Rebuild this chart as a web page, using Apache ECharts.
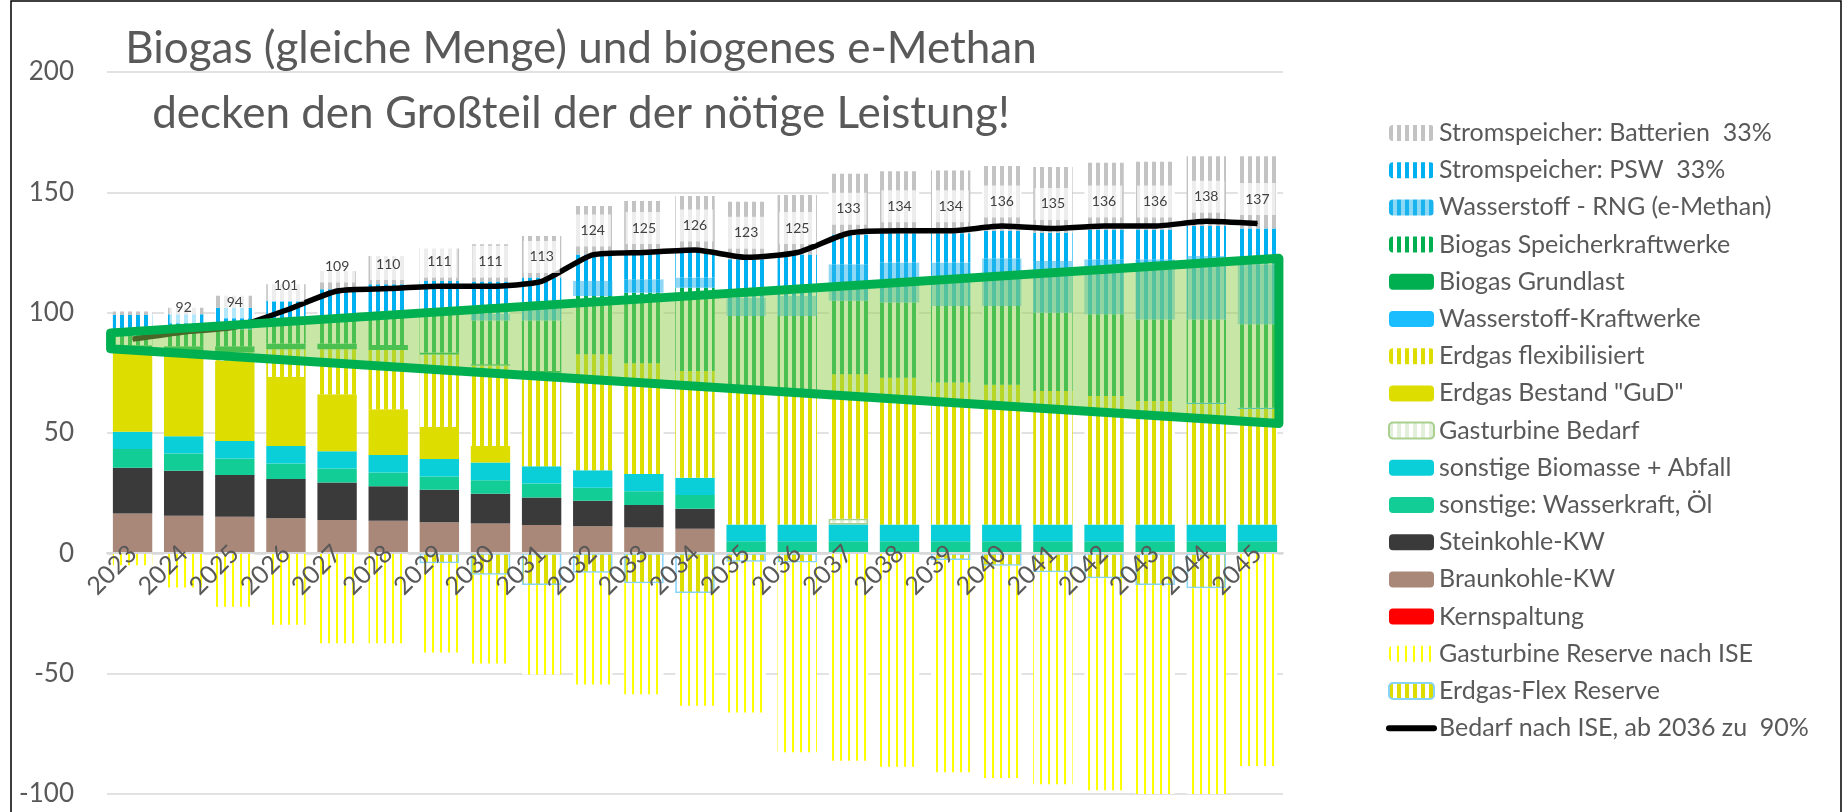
<!DOCTYPE html>
<html>
<head>
<meta charset="utf-8">
<title>Biogas und biogenes e-Methan</title>
<script src="https://cdn.jsdelivr.net/npm/echarts@6/dist/echarts.min.js"></script>
<style>
  html, body { margin: 0; padding: 0; background: #fff; }
  #main { width: 1847px; height: 812px; }
</style>
</head>
<body>
<div id="main"></div>
<script>
// Kategorien
const years = ['2023', '2024', '2025', '2026', '2027', '2028', '2029', '2030', '2031', '2032', '2033', '2034',
  '2035', '2036', '2037', '2038', '2039', '2040', '2041', '2042', '2043', '2044', '2045']

// Leistung je Quelle (GW), von unten nach oben gestapelt
const kernspaltung = [0, 0, 0, 0, 0, 0, 0, 0, 0, 0, 0, 0, 0, 0, 0, 0, 0, 0, 0, 0, 0, 0, 0]
const braunkohle = [16.5, 15.6, 15.2, 14.6, 13.9, 13.5, 12.9, 12.4, 11.8, 11.3, 10.7, 10.2, 0, 0, 0, 0, 0, 0, 0, 0, 0, 0, 0]
const steinkohle = [19.1, 18.7, 17.4, 16.3, 15.5, 14.4, 13.5, 12.4, 11.4, 10.5, 9.4, 8.3, 0, 0, 0, 0, 0, 0, 0, 0, 0, 0, 0]
const wasserkraft = [7.7, 7.2, 6.8, 6.4, 5.8, 5.7, 5.5, 5.6, 5.8, 5.5, 5.7, 5.7, 5, 5, 5, 5, 5, 5, 5, 5, 5, 5, 5]
const biomasse = [7.2, 7.2, 7.3, 7.3, 7.2, 7.3, 7.3, 7.3, 7.2, 7.2, 7.2, 7.2, 7, 7, 7, 7, 7, 7, 7, 7, 7, 7, 7]
const gtBedarf = [0, 0, 0, 0, 0, 0, 0, 0, 0, 0, 0, 0, 0, 0, 2.4, 0, 0, 0, 0, 0, 0, 0, 0]
const gud = [33.5, 34.3, 33.3, 28.7, 23.7, 19, 13.3, 6.9, 0, 0, 0, 0, 0, 0, 0, 0, 0, 0, 0, 0, 0, 0, 0]
const erdgasFlex = [0, 0.5, 3.5, 11.5, 18.7, 24.6, 30.1, 33.4, 38.8, 48.2, 46, 44.4, 56, 56, 60, 61, 59, 58, 55.5, 53.4, 51.3, 50.1, 48]
const h2Kraftwerke = [0, 0, 0, 0, 0, 0, 0, 0, 0, 0, 0, 0, 0, 0, 0, 0, 0, 0, 0, 0, 0, 0.5, 0.5]
const biogasGrund = [2.5, 2.5, 2.5, 2.4, 2.4, 2.1, 0.8, 0.6, 0.8, 0, 0, 0, 0, 0, 0, 0, 0, 0, 0, 0, 0, 0, 0]
const biogasSpeicher = [4.5, 6, 7, 7.8, 9.8, 11.4, 15.6, 18.1, 20.9, 24.2, 29.3, 34.6, 30.6, 30.6, 30.5, 31.2, 31.8, 32.8, 32.5, 33.9, 33.9, 34.6, 34.7]
const rng = [0, 0, 0, 0, 0, 0, 0, 2.7, 4.8, 6.3, 5.6, 4.2, 7.6, 8.3, 15.2, 16.6, 18, 19.8, 21.5, 22.9, 25, 26.3, 24.9]
const psw = [8, 7.3, 9, 9.9, 12.7, 13.8, 14.2, 13.6, 13.1, 11, 11.1, 11, 16, 17.3, 12.4, 12.2, 12.2, 11.4, 11.7, 12.4, 12.4, 12.5, 14.9]
const batterien = [1.5, 2.7, 5, 6.9, 7.6, 11.7, 13.5, 15.4, 17.3, 20.1, 21.4, 22.9, 23.9, 24.7, 25.2, 25.8, 26.1, 26.9, 27.3, 27.7, 28.1, 29, 30]

// Reserven (negativ)
const flexReserve = [0, 0, 0, 0, 0, 0, -4.1, -8.9, -13.2, -8.1, -12.4, -16.5, -3.5, -3.8, 0, 0, -2.8, -5.2, -7.9, -10.4, -13.2, -14.5, 0]
const gtReserve = [-4.9, -14.2, -22.2, -29.7, -37.4, -37.4, -37.1, -36.9, -37.1, -46.4, -46.2, -46.8, -62.6, -78.9, -86.2, -88.7, -88.2, -88.2, -88, -88, -92.8, -91.5, -88.4]

// Bedarf nach ISE
const bedarf = [89, 92, 94, 101, 109, 110, 111, 111, 113, 124, 125, 126, 123, 125, 133, 134, 134, 136, 135, 136, 136, 138, 137]

// grüne Markierung (Trapez), x als Kategorie-Index
const trapezX = [-0.43, 22.42, 22.42, -0.43]
const trapezY = [91.6, 122.6, 53.9, 85]

const titleLines = ['Biogas (gleiche Menge) und biogenes e-Methan', 'decken den Großteil der der nötige Leistung!']

// senkrechte Streifen als Muster
function stripes(fg, bg, period, w) {
  const c = document.createElement('canvas')
  c.width = period
  c.height = 2
  const g = c.getContext('2d')
  g.fillStyle = bg
  g.fillRect(0, 0, period, 2)
  g.fillStyle = fg
  g.fillRect(0, 0, w, 2)
  return { image: c, repeat: 'repeat' }
}

const nz = arr => arr.map(v => (v === 0 ? '-' : v))

function bar(name, data, color, style) {
  return {
    name: name,
    type: 'bar',
    stack: 'total',
    barCategoryGap: '23%',
    z: 2,
    emphasis: { disabled: true },
    itemStyle: Object.assign({ color: color }, style || {}),
    data: nz(data)
  }
}

const chart = echarts.init(document.getElementById('main'))
const font = 'Lato'
const lineName = 'Bedarf nach ISE, ab 2036 zu  90%'

const series = [
  bar('Kernspaltung', kernspaltung, '#FF0000'),
  bar('Braunkohle-KW', braunkohle, '#A98879'),
  bar('Steinkohle-KW', steinkohle, '#3A3A3A'),
  bar('sonstige: Wasserkraft, Öl', wasserkraft, '#12CD95'),
  bar('sonstige Biomasse + Abfall', biomasse, '#0BCFD8'),
  bar('Gasturbine Bedarf', gtBedarf, stripes('#E2EFDA', '#FFFFFF', 8, 4), { borderColor: '#A9D08E', borderWidth: 1.5 }),
  bar('Erdgas Bestand "GuD"', gud, '#DDDD00'),
  bar('Erdgas flexibilisiert', erdgasFlex, stripes('#DDDD00', '#FFFFFF', 8, 4)),
  bar('Wasserstoff-Kraftwerke', h2Kraftwerke, '#1ABEFF'),
  bar('Biogas Grundlast', biogasGrund, '#00B050'),
  bar('Biogas Speicherkraftwerke', biogasSpeicher, stripes('#00B050', '#FFFFFF', 8, 4)),
  bar('Wasserstoff - RNG (e-Methan)', rng, stripes('#19B4EE', '#8ED8F5', 8, 4)),
  bar('Stromspeicher: PSW  33%', psw, stripes('#00B0F0', '#FFFFFF', 8, 4)),
  bar('Stromspeicher: Batterien  33%', batterien, stripes('#C3C3C3', '#FFFFFF', 8, 4)),
  bar('Erdgas-Flex Reserve', flexReserve, stripes('#DDDD00', '#FFFFFF', 8, 4), { borderColor: '#87D3F8', borderWidth: 1.5 }),
  bar('Gasturbine Reserve nach ISE', gtReserve, stripes('#FFFF00', '#FFFFFF', 8, 2)),
  {
    name: lineName,
    type: 'line',
    z: 3,
    symbol: 'circle',
    symbolSize: 1,
    smooth: 0.2,
    lineStyle: { color: '#000', width: 5.5 },
    itemStyle: { color: '#000' },
    label: {
      show: true,
      position: 'top',
      distance: 8,
      color: '#404040',
      fontSize: 14,
      fontFamily: font,
      backgroundColor: 'rgba(255,255,255,0.7)',
      padding: [9, 6]
    },
    data: bedarf.map((v, i) => (i === 0 ? { value: v, label: { show: false } } : v))
  },
  {
    // grünes Trapez über den Balken
    type: 'custom',
    z: 4,
    silent: true,
    clip: false,
    data: [[0, 0]],
    renderItem: function (params, api) {
      const p0 = api.coord([0, 0])
      const p22 = api.coord([22, 0])
      const step = (p22[0] - p0[0]) / 22
      const points = trapezX.map((x, i) => [p0[0] + x * step, api.coord([0, trapezY[i]])[1]])
      return {
        type: 'polygon',
        shape: { points: points },
        style: { fill: 'rgba(146,208,80,0.5)', stroke: '#00B050', lineWidth: 9, lineJoin: 'round' }
      }
    }
  }
]

const option = {
  animation: false,
  backgroundColor: '#fff',
  textStyle: { fontFamily: font },
  grid: { left: 107, right: 564, top: 72, bottom: 18 },
  legend: {
    orient: 'vertical',
    left: 1381,
    top: 115,
    itemWidth: 45,
    itemHeight: 16,
    itemGap: 11.2,
    selectedMode: false,
    textStyle: { fontSize: 25, color: '#595959', fontFamily: font, lineHeight: 26 },
    data: [
      'Stromspeicher: Batterien  33%',
      'Stromspeicher: PSW  33%',
      'Wasserstoff - RNG (e-Methan)',
      'Biogas Speicherkraftwerke',
      'Biogas Grundlast',
      'Wasserstoff-Kraftwerke',
      'Erdgas flexibilisiert',
      'Erdgas Bestand "GuD"',
      'Gasturbine Bedarf',
      'sonstige Biomasse + Abfall',
      'sonstige: Wasserkraft, Öl',
      'Steinkohle-KW',
      'Braunkohle-KW',
      'Kernspaltung',
      'Gasturbine Reserve nach ISE',
      'Erdgas-Flex Reserve',
      { name: lineName, itemStyle: { opacity: 0 }, lineStyle: { width: 6, cap: 'round' } }
    ]
  },
  xAxis: {
    type: 'category',
    data: years,
    position: 'bottom',
    z: 10,
    // Achse auf Höhe der Nulllinie (Abstand vom unteren Rand des Plots)
    offset: -241.5,
    axisLine: { onZero: false, lineStyle: { color: '#D9D9D9', width: 2 } },
    axisTick: { show: false },
    axisLabel: { rotate: 45, interval: 0, fontSize: 25, color: '#595959', margin: -3, fontFamily: font }
  },
  yAxis: {
    type: 'value',
    min: -100,
    max: 200,
    interval: 50,
    axisLine: { show: false },
    axisTick: { show: false },
    axisLabel: { fontSize: 26, color: '#595959', margin: 33, fontFamily: font },
    splitLine: { lineStyle: { color: '#D9D9D9', width: 1.5 } }
  },
  graphic: [
    {
      type: 'rect',
      silent: true,
      shape: { x: 11, y: 1, width: 1830, height: 840 },
      style: { fill: 'none', stroke: '#000', lineWidth: 1.5 }
    },
    {
      type: 'text',
      x: 581,
      y: 49,
      style: { text: titleLines[0], font: '44px Lato', fill: '#595959', align: 'center', verticalAlign: 'middle' }
    },
    {
      type: 'text',
      x: 581,
      y: 114,
      style: { text: titleLines[1], font: '44px Lato', fill: '#595959', align: 'center', verticalAlign: 'middle' }
    }
  ],
  series: series
}

chart.setOption(option)
</script>
</body>
</html>
